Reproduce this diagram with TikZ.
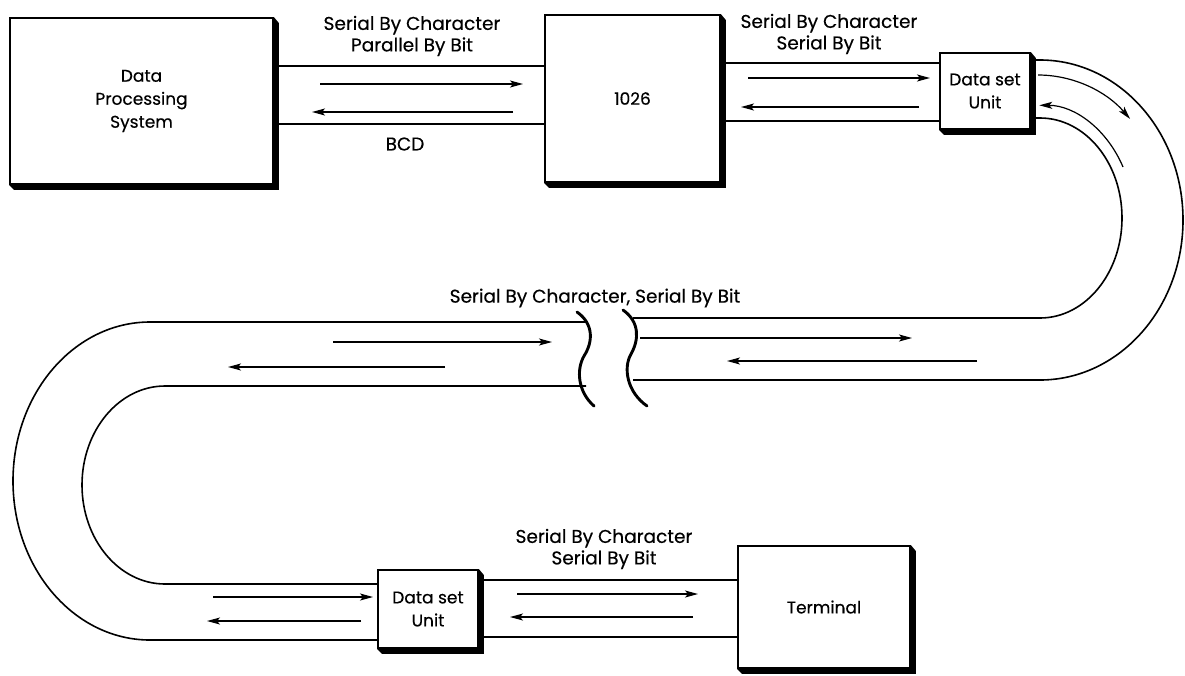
\documentclass[tikz,border=0pt]{standalone}
\usepackage{fontspec}
\setmainfont{Poppins}[FakeBold=0.35]
\usepackage{tikz}
\usetikzlibrary{calc, arrows.meta}

\tikzset{
  unit/.style={draw, line width=1.8pt, fill=white, align=center, inner sep=0pt,
    font=\fontsize{17}{23}\selectfont},
  channel/.style={line width=1.6pt},
  flow/.style={line width=1.2pt, -{Stealth[length=13pt, width=7pt, inset=3pt]}},
  wiggle/.style={line width=2.9pt, line cap=round},
  lbl/.style={align=center, inner sep=0pt, font=\fontsize{18.5}{21.5}\selectfont},
}
\newcommand{\unitshadow}[1]{%
  \fill (#1.north east) -- ++(5,6) -- ($(#1.south east)+(5,5)$)
    -- ($(#1.south west)+(5,5)$) -- (#1.south west) -- (#1.south east) -- cycle;}

\begin{document}
\begin{tikzpicture}[x=1pt, y=-1pt]
  \useasboundingbox (0,0) rectangle (1185,675);

  % units
  \node[unit, minimum width=263, minimum height=166] (dps) at (141.5,101) {Data\\Processing\\System};
  \node[unit, minimum width=175, minimum height=167] (cpu) at (632.5,98.5) {1026};
  \node[unit, minimum width=90, minimum height=76] (dsuA) at (985,91) {Data set\\Unit};
  \node[unit, minimum width=100, minimum height=78] (dsuB) at (428,609) {Data set\\Unit};
  \node[unit, minimum width=172, minimum height=122] (term) at (824,607) {Terminal};

  % break in the line
  \coordinate (brkL) at (586,350);
  \coordinate (brkR) at (633,350);

  % channels
  \draw[channel] (dps.east |- 0,66) -- (cpu.west |- 0,66);
  \draw[channel] (dps.east |- 0,124) -- (cpu.west |- 0,124);
  \draw[channel] (cpu.east |- 0,63) -- (dsuA.west |- 0,63);
  \draw[channel] (cpu.east |- 0,121) -- (dsuA.west |- 0,121);
  \draw[channel] (dsuA.east |- 0,60) -- (1040,60)
    arc[start angle=-90, end angle=90, x radius=143, y radius=160] -- (brkR |- 0,380);
  \draw[channel] (dsuA.east |- 0,118) -- (1040,118)
    arc[start angle=-90, end angle=90, x radius=82, y radius=100] -- (brkR |- 0,318);
  \draw[channel] (brkL |- 0,322) -- (150,322)
    arc[start angle=-90, end angle=-270, x radius=137, y radius=159] -- (dsuB.west |- 0,640);
  \draw[channel] (brkL |- 0,386) -- (165,386)
    arc[start angle=-90, end angle=-270, x radius=83, y radius=99] -- (dsuB.west |- 0,584);
  \draw[channel] (dsuB.east |- 0,580) -- (term.west |- 0,580);
  \draw[channel] (dsuB.east |- 0,637) -- (term.west |- 0,637);

  \foreach \b in {dps, cpu, dsuA, dsuB, term}
    \unitshadow{\b};

  % break marks
  \draw[wiggle] (577,312) .. controls (594,324) and (593,342) .. (584,356)
    .. controls (576,370) and (578,392) .. (594,406);
  \draw[wiggle] (623,310) .. controls (640,322) and (639,340) .. (631,354)
    .. controls (623,368) and (627,392) .. (647,406);

  % data flow
  \foreach \y/\a/\b in {84/320/523, 112/513/312, 78/748/930, 107/919/741,
      342/333/552, 367/445/228, 338/640/912, 361/977/727,
      597/213/373, 621/361/207, 594/517/698, 617/693/510}
    \draw[flow] (\a,\y) -- (\b,\y);
  \draw[flow] (1038,75) arc[start angle=-90, end angle=-44, x radius=128, y radius=144];
  \draw[flow] (1123,167) arc[start angle=-27, end angle=-90, x radius=94, y radius=113];

  % labels
  \node[lbl] (modeA) at (412,36) {Serial By Character\\Parallel By Bit};
  \node[lbl] (code) at (405,144) {BCD};
  \node[lbl] (modeB) at (829,34) {Serial By Character\\Serial By Bit};
  \node[lbl] (modeC) at (595,298) {Serial By Character, Serial By Bit};
  \node[lbl] (modeD) at (604,549) {Serial By Character\\Serial By Bit};
\end{tikzpicture}
\end{document}
